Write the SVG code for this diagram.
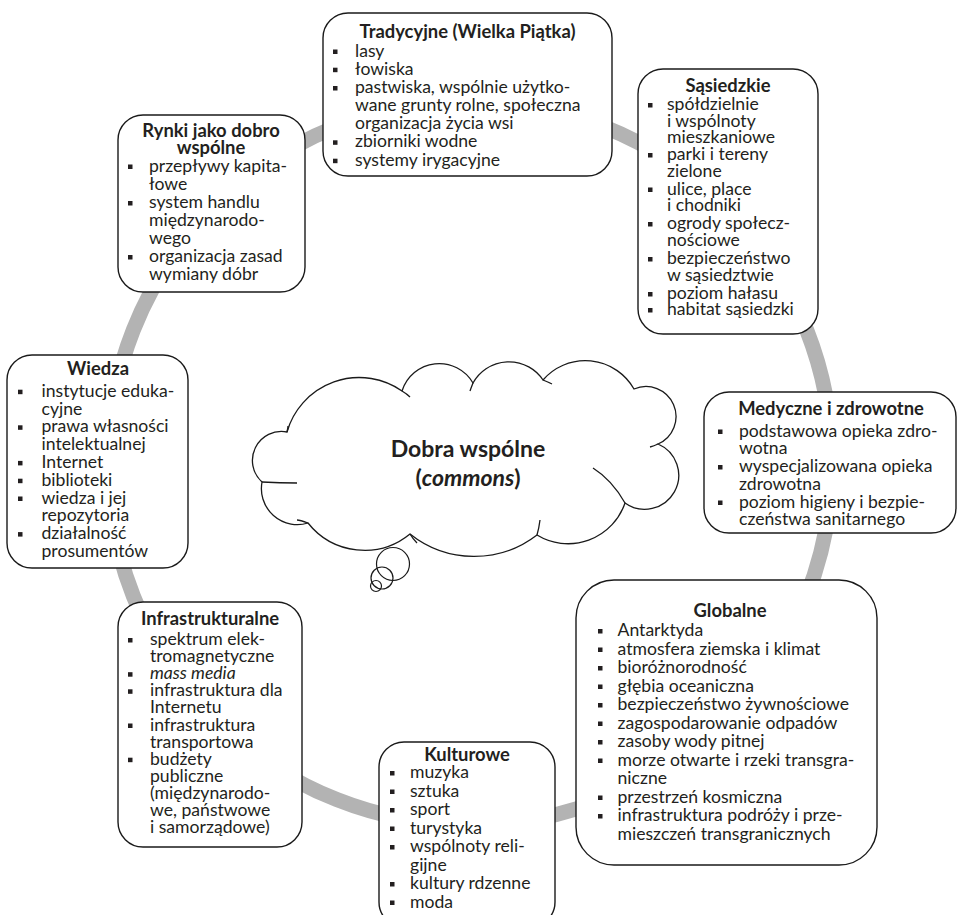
<svg xmlns="http://www.w3.org/2000/svg" xmlns:xlink="http://www.w3.org/1999/xlink" width="958" height="915" viewBox="0 0 958 915">
<style>
.bg{fill:#fff}
.ring{fill:none;stroke:#b3b3b3;stroke-width:15}
.box{fill:#fff;stroke:#1a1a1a;stroke-width:1.4}
.t{font-family:Lato,"Noto Sans","DejaVu Sans",sans-serif;font-size:17.6px;fill:#231f20}
.h{font-weight:bold;text-anchor:middle;font-size:18.4px}
.c{font-family:Lato,"Noto Sans","DejaVu Sans",sans-serif;font-size:23px;font-weight:bold;fill:#231f20;text-anchor:middle}
.cloud{fill:#fff;stroke:#1a1a1a;stroke-width:1.3}
.tick{fill:none;stroke:#1a1a1a;stroke-width:1.3}
.bub{fill:none;stroke:#1a1a1a;stroke-width:1.2}
</style>
<defs>
<rect id="b" width="4.5" height="4.5" fill="#231f20"/>
</defs>
<rect class="bg" width="958" height="915"/>
<g id="connectors">
<circle class="ring" cx="470" cy="463" r="362"/>
</g>
<g id="center">
<path class="cloud" d="M287,432 A75,75 0 0 1 402,391 A39,39 0 0 1 473,383 A41,41 0 0 1 543,380 A56,56 0 0 1 634,389 A30,30 0 0 1 658,444 A34,34 0 1 1 625,503 A60,60 0 0 1 537,535 A103,103 0 0 1 410,534 A72,72 0 0 1 308,523 A36,36 0 0 1 262,482 A29,29 0 0 1 287,432 Z"/>
<path class="tick" d="M402,391 Q407,394 410,397 M473,383 Q471,388 470,391 M543,380 Q548,382 552,384 M658,444 Q654,446 650,447 M625,503 Q612,480 593,468 M537,535 Q539,528 540,520 M410,534 Q413,539 417,543 M308,523 Q300,520 297,520 M262,482 Q280,483 297,483 M287,432 Q288,428 288,426"/>
<circle class="bub" cx="393" cy="564" r="16.5"/>
<circle class="bub" cx="382" cy="578" r="11"/>
<circle class="bub" cx="376" cy="586" r="5.5"/>
<text class="c" x="468" y="456.5">Dobra wspólne</text>
<text class="c" x="468" y="486">(<tspan font-style="italic">commons</tspan>)</text>
</g>
<g id="tradycyjne">
<rect class="box" x="323" y="13" width="289" height="163" rx="25"/>
<text class="t h" x="467.5" y="38">Tradycyjne (Wielka Piątka)</text>
<use href="#b" x="333" y="49.5"/><text class="t" x="355" y="56.5">lasy</text>
<use href="#b" x="333" y="67.7"/><text class="t" x="355" y="74.7">łowiska</text>
<use href="#b" x="333" y="86"/><text class="t" x="355" y="93">pastwiska, wspólnie użytko-</text>
<text class="t" x="355" y="111">wane grunty rolne, społeczna</text>
<text class="t" x="355" y="129">organizacja życia wsi</text>
<use href="#b" x="333" y="140.3"/><text class="t" x="355" y="147.3">zbiorniki wodne</text>
<use href="#b" x="333" y="158.7"/><text class="t" x="355" y="165.7">systemy irygacyjne</text>
</g>
<g id="sasiedzkie">
<rect class="box" x="638" y="69" width="180" height="265" rx="25"/>
<text class="t h" x="728" y="91.5">Sąsiedzkie</text>
<use href="#b" x="648" y="103"/><text class="t" x="667" y="110">spółdzielnie</text>
<text class="t" x="667" y="126.5">i wspólnoty</text>
<text class="t" x="667" y="143">mieszkaniowe</text>
<use href="#b" x="648" y="153"/><text class="t" x="667" y="160">parki i tereny</text>
<text class="t" x="667" y="176.5">zielone</text>
<use href="#b" x="648" y="187.5"/><text class="t" x="667" y="194.5">ulice, place</text>
<text class="t" x="667" y="211">i chodniki</text>
<use href="#b" x="648" y="222"/><text class="t" x="667" y="229">ogrody społecz-</text>
<text class="t" x="667" y="245.5">nościowe</text>
<use href="#b" x="648" y="257"/><text class="t" x="667" y="264">bezpieczeństwo</text>
<text class="t" x="667" y="280.5">w sąsiedztwie</text>
<use href="#b" x="648" y="292"/><text class="t" x="667" y="299">poziom hałasu</text>
<use href="#b" x="648" y="308"/><text class="t" x="667" y="315">habitat sąsiedzki</text>
</g>
<g id="rynki">
<rect class="box" x="118" y="115" width="187" height="177" rx="25"/>
<text class="t h" x="211" y="136.5">Rynki jako dobro</text>
<text class="t h" x="211" y="153.5">wspólne</text>
<use href="#b" x="128" y="164.5"/><text class="t" x="149" y="171.5">przepływy kapita-</text>
<text class="t" x="149" y="189.5">łowe</text>
<use href="#b" x="128" y="201"/><text class="t" x="149" y="208">system handlu</text>
<text class="t" x="149" y="226">międzynarodo-</text>
<text class="t" x="149" y="244">wego</text>
<use href="#b" x="128" y="255"/><text class="t" x="149" y="262">organizacja zasad</text>
<text class="t" x="149" y="280">wymiany dóbr</text>
</g>
<g id="wiedza">
<rect class="box" x="7" y="355" width="181" height="213" rx="25"/>
<text class="t h" x="98" y="375">Wiedza</text>
<use href="#b" x="18" y="389.7"/><text class="t" x="41.5" y="396.7">instytucje eduka-</text>
<text class="t" x="41.5" y="414.5">cyjne</text>
<use href="#b" x="18" y="425.3"/><text class="t" x="41.5" y="432.3">prawa własności</text>
<text class="t" x="41.5" y="450.1">intelektualnej</text>
<use href="#b" x="18" y="460.9"/><text class="t" x="41.5" y="467.9">Internet</text>
<use href="#b" x="18" y="478.7"/><text class="t" x="41.5" y="485.7">biblioteki</text>
<use href="#b" x="18" y="496.5"/><text class="t" x="41.5" y="503.5">wiedza i jej</text>
<text class="t" x="41.5" y="521.3">repozytoria</text>
<use href="#b" x="18" y="532.1"/><text class="t" x="41.5" y="539.1">działalność</text>
<text class="t" x="41.5" y="556.9">prosumentów</text>
</g>
<g id="medyczne">
<rect class="box" x="704" y="392" width="252" height="141" rx="25"/>
<text class="t h" x="831" y="415">Medyczne i zdrowotne</text>
<use href="#b" x="718" y="429.5"/><text class="t" x="739" y="436.5">podstawowa opieka zdro-</text>
<text class="t" x="739" y="454">wotna</text>
<use href="#b" x="718" y="465"/><text class="t" x="739" y="472">wyspecjalizowana opieka</text>
<text class="t" x="739" y="489.5">zdrowotna</text>
<use href="#b" x="718" y="500.5"/><text class="t" x="739" y="507.5">poziom higieny i bezpie-</text>
<text class="t" x="739" y="525">czeństwa sanitarnego</text>
</g>
<g id="globalne">
<rect class="box" x="576" y="580" width="301" height="285" rx="38"/>
<text class="t h" x="730" y="616.5">Globalne</text>
<use href="#b" x="598" y="629"/><text class="t" x="617.5" y="636">Antarktyda</text>
<use href="#b" x="598" y="647.5"/><text class="t" x="617.5" y="654.5">atmosfera ziemska i klimat</text>
<use href="#b" x="598" y="666"/><text class="t" x="617.5" y="673">bioróżnorodność</text>
<use href="#b" x="598" y="684.5"/><text class="t" x="617.5" y="691.5">głębia oceaniczna</text>
<use href="#b" x="598" y="703"/><text class="t" x="617.5" y="710">bezpieczeństwo żywnościowe</text>
<use href="#b" x="598" y="721.5"/><text class="t" x="617.5" y="728.5">zagospodarowanie odpadów</text>
<use href="#b" x="598" y="740"/><text class="t" x="617.5" y="747">zasoby wody pitnej</text>
<use href="#b" x="598" y="758.5"/><text class="t" x="617.5" y="765.5">morze otwarte i rzeki transgra-</text>
<text class="t" x="617.5" y="784">niczne</text>
<use href="#b" x="598" y="795.5"/><text class="t" x="617.5" y="802.5">przestrzeń kosmiczna</text>
<use href="#b" x="598" y="814"/><text class="t" x="617.5" y="821">infrastruktura podróży i prze-</text>
<text class="t" x="617.5" y="839.5">mieszczeń transgranicznych</text>
</g>
<g id="infrastrukturalne">
<rect class="box" x="118" y="602" width="184" height="245" rx="25"/>
<text class="t h" x="210" y="625">Infrastrukturalne</text>
<use href="#b" x="128" y="638"/><text class="t" x="150" y="645">spektrum elek-</text>
<text class="t" x="150" y="662.1">tromagnetyczne</text>
<use href="#b" x="128" y="672.2"/><text class="t" x="150" y="679.2" font-style="italic">mass media</text>
<use href="#b" x="128" y="689.3"/><text class="t" x="150" y="696.3">infrastruktura dla</text>
<text class="t" x="150" y="713.4">Internetu</text>
<use href="#b" x="128" y="723.5"/><text class="t" x="150" y="730.5">infrastruktura</text>
<text class="t" x="150" y="747.6">transportowa</text>
<use href="#b" x="128" y="757.7"/><text class="t" x="150" y="764.7">budżety</text>
<text class="t" x="150" y="781.8">publiczne</text>
<text class="t" x="150" y="798.9">(międzynarodo-</text>
<text class="t" x="150" y="816">we, państwowe</text>
<text class="t" x="150" y="833">i samorządowe)</text>
</g>
<g id="kulturowe">
<rect class="box" x="379" y="742" width="176" height="185" rx="25"/>
<text class="t h" x="467" y="760.5">Kulturowe</text>
<use href="#b" x="390" y="771"/><text class="t" x="410" y="778">muzyka</text>
<use href="#b" x="390" y="789.5"/><text class="t" x="410" y="796.5">sztuka</text>
<use href="#b" x="390" y="808"/><text class="t" x="410" y="815">sport</text>
<use href="#b" x="390" y="826.5"/><text class="t" x="410" y="833.5">turystyka</text>
<use href="#b" x="390" y="845"/><text class="t" x="410" y="852">wspólnoty reli-</text>
<text class="t" x="410" y="870.5">gijne</text>
<use href="#b" x="390" y="882"/><text class="t" x="410" y="889">kultury rdzenne</text>
<use href="#b" x="390" y="900.5"/><text class="t" x="410" y="907.5">moda</text>
</g>
</svg>
